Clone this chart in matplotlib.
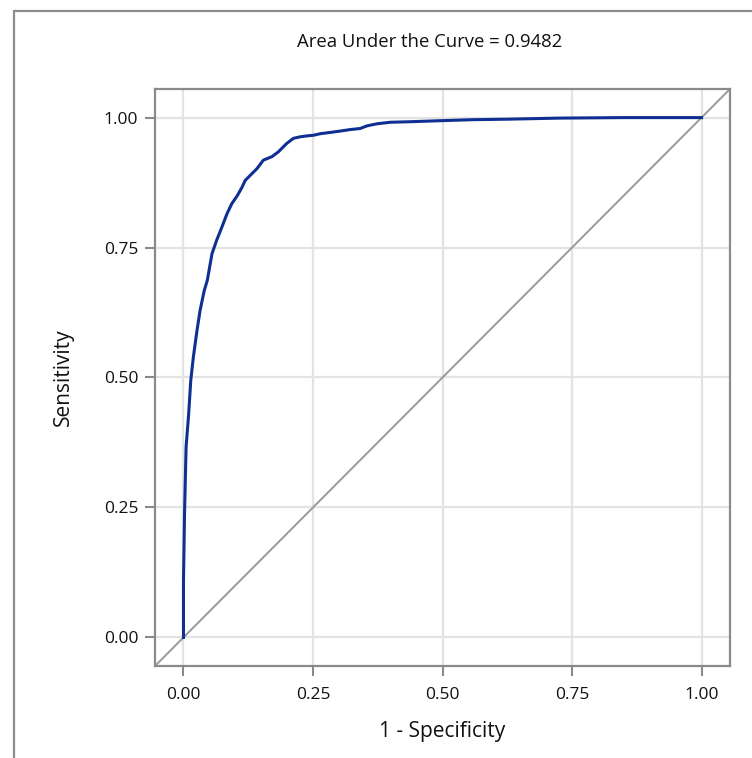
import matplotlib
matplotlib.use("Agg")
import matplotlib.pyplot as plt
from matplotlib.patches import Rectangle

# ROC curve points
fpr = [0.000, 0.000, 0.002, 0.005, 0.010, 0.014, 0.019, 0.026, 0.032, 0.040,
       0.046, 0.055, 0.064, 0.074, 0.084, 0.093, 0.104, 0.113, 0.119, 0.129,
       0.142, 0.154, 0.171, 0.183, 0.199, 0.212, 0.225, 0.240, 0.251, 0.264,
       0.280, 0.302, 0.322, 0.341, 0.354, 0.373, 0.399, 0.436, 0.495, 0.560,
       0.629, 0.725, 0.850, 1.000]
tpr = [0.000, 0.109, 0.238, 0.366, 0.430, 0.494, 0.539, 0.590, 0.629, 0.667,
       0.687, 0.738, 0.764, 0.789, 0.815, 0.834, 0.850, 0.866, 0.879, 0.889,
       0.902, 0.918, 0.925, 0.934, 0.950, 0.960, 0.963, 0.965, 0.966, 0.969,
       0.971, 0.974, 0.977, 0.979, 0.984, 0.988, 0.991, 0.992, 0.994, 0.996,
       0.997, 0.999, 1.000, 1.000]
ticks = [0.0, 0.25, 0.5, 0.75, 1.0]
tick_labels = ["0.00", "0.25", "0.50", "0.75", "1.00"]
auc = 0.9482

plt.rcParams['font.family'] = ['Open Sans', 'DejaVu Sans']

W, H = 752, 758
fig = plt.figure(figsize=(W / 100, H / 100), dpi=100)
ax = fig.add_axes([155 / W, 1 - 666 / H, 575 / W, 577 / H])

lo, hi = -0.055, 1.055
ax.set_xlim(lo, hi)
ax.set_ylim(lo, hi)

ax.grid(True, color='#e3e3e3', linewidth=1.6, zorder=0)
ax.set_axisbelow(True)
ax.plot([lo, hi], [lo, hi], color='#999999', linewidth=1.4, zorder=2)
ax.plot(fpr, tpr, color='#0f2f92', linewidth=2.2, zorder=3)

ax.set_xticks(ticks)
ax.set_xticklabels(tick_labels)
ax.set_yticks(ticks)
ax.set_yticklabels(tick_labels)
ax.tick_params(length=7, width=1.5, color='#8a8a8a', labelsize=12.5, labelcolor='#111111')
ax.tick_params(axis='x', pad=8)
ax.tick_params(axis='y', pad=5)
for s in ax.spines.values():
    s.set_color('#8a8a8a')
    s.set_linewidth(1.6)

fig.text(430 / W, 1 - 42 / H, "Area Under the Curve = %.4f" % auc,
         ha='center', va='center', fontsize=13.3, color='#111111')
fig.text(442 / W, 1 - 732 / H, "1 - Specificity", ha='center', va='center',
         fontsize=15, color='#111111')
fig.text(63 / W, 1 - 377 / H, "Sensitivity", ha='center', va='center',
         rotation=90, fontsize=15, color='#111111')

# outer frame, cut off at right and bottom
fig.patches.append(Rectangle((14 / W, -0.1), 1.2, 1 - 11 / H + 0.1,
                             transform=fig.transFigure, fill=False,
                             edgecolor='#8c8c8c', linewidth=1.6))

fig.savefig("out.png", dpi=100)
